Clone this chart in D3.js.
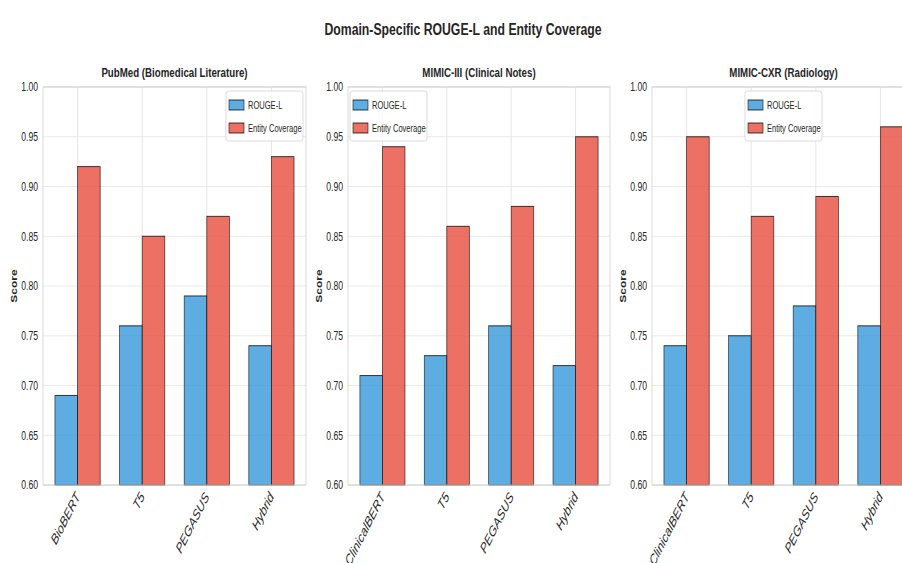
<!DOCTYPE html>
<html>
<head>
<meta charset="utf-8">
<script src="https://cdn.jsdelivr.net/npm/d3@7"></script>
<style>
  body { margin: 0; background: #fff; }
  svg { display: block; }
  text { font-family: "Liberation Sans", Arial, sans-serif; fill: #262626; }
</style>
</head>
<body>
<svg id="chart" width="902" height="563"></svg>
<script>
// ---- data ----
const datasetTitles = ["PubMed (Biomedical Literature)", "MIMIC-III (Clinical Notes)", "MIMIC-CXR (Radiology)"];
const pubmedModels = ["BioBERT", "T5", "PEGASUS", "Hybrid"];
const mimic3Models = ["ClinicalBERT", "T5", "PEGASUS", "Hybrid"];
const mimicCxrModels = ["ClinicalBERT", "T5", "PEGASUS", "Hybrid"];
const pubmedRouge = [0.69, 0.76, 0.79, 0.74];
const pubmedEntity = [0.92, 0.85, 0.87, 0.93];
const mimic3Rouge = [0.71, 0.73, 0.76, 0.72];
const mimic3Entity = [0.94, 0.86, 0.88, 0.95];
const mimicCxrRouge = [0.74, 0.75, 0.78, 0.76];
const mimicCxrEntity = [0.95, 0.87, 0.89, 0.96];
const seriesNames = ["ROUGE-L", "Entity Coverage"];
const yTicks = [0.60, 0.65, 0.70, 0.75, 0.80, 0.85, 0.90, 0.95, 1.00];

// ---- layout & style ----
const SX = 0.72;                 // horizontal condensing of the whole figure
const ix = v => v / SX;          // figure x -> inner x
const colors = ["#3498db", "#e74c3c"];
const barAlpha = 0.8;
const barWidth = 0.35;
const plotTop = 87, plotBottom = 485;
const panels = [
  { title: datasetTitles[0], models: pubmedModels, values: [pubmedRouge, pubmedEntity], left: 43, right: 306, legend: "right" },
  { title: datasetTitles[1], models: mimic3Models, values: [mimic3Rouge, mimic3Entity], left: 348, right: 610, legend: "left" },
  { title: datasetTitles[2], models: mimicCxrModels, values: [mimicCxrRouge, mimicCxrEntity], left: 652, right: 915, legend: "center" }
];

const svg = d3.select("#chart");
const root = svg.append("g").attr("transform", `scale(${SX},1)`);

root.append("text")
  .attr("x", ix(463)).attr("y", 35)
  .attr("text-anchor", "middle")
  .attr("font-size", 17).attr("font-weight", "bold")
  .text("Domain-Specific ROUGE-L and Entity Coverage");

panels.forEach(p => {
  const n = p.models.length;
  const lo = -barWidth, hi = n - 1 + barWidth, pad = 0.05 * (hi - lo);
  const x = d3.scaleLinear().domain([lo - pad, hi + pad]).range([ix(p.left), ix(p.right)]);
  const y = d3.scaleLinear().domain([0.6, 1.0]).range([plotBottom, plotTop]);
  const g = root.append("g");

  // grid
  g.append("g").selectAll("line").data(yTicks).join("line")
    .attr("x1", x.range()[0]).attr("x2", x.range()[1])
    .attr("y1", d => y(d)).attr("y2", d => y(d))
    .attr("stroke", "#e6e6e6").attr("stroke-width", 1);
  g.append("g").selectAll("line").data(d3.range(n)).join("line")
    .attr("x1", d => x(d)).attr("x2", d => x(d))
    .attr("y1", plotTop).attr("y2", plotBottom)
    .attr("stroke", "#e6e6e6").attr("stroke-width", 1 / SX);

  // bars
  p.values.forEach((vals, s) => {
    const off = s === 0 ? -barWidth : 0;
    g.append("g").selectAll("rect").data(vals).join("rect")
      .attr("x", (d, i) => x(i + off))
      .attr("width", x(barWidth) - x(0))
      .attr("y", d => y(d))
      .attr("height", d => y(0.6) - y(d))
      .attr("fill", colors[s]).attr("fill-opacity", barAlpha)
      .attr("stroke", "#000").attr("stroke-opacity", 0.75).attr("stroke-width", 1);
  });

  // frame
  g.append("rect")
    .attr("x", x.range()[0]).attr("y", plotTop)
    .attr("width", x.range()[1] - x.range()[0]).attr("height", plotBottom - plotTop)
    .attr("fill", "none").attr("stroke", "#cccccc").attr("stroke-width", 1);

  // y axis
  const yAxis = d3.axisLeft(y).tickValues(yTicks).tickFormat(d3.format(".2f")).tickSize(0).tickPadding(ix(5));
  const ya = g.append("g").attr("transform", `translate(${x.range()[0]},0)`).call(yAxis);
  ya.select(".domain").remove();
  ya.selectAll("text").attr("font-size", 12).attr("fill", "#262626")
    .attr("font-family", '"Liberation Sans", Arial, sans-serif');

  // x axis labels
  g.append("g").selectAll("text").data(p.models).join("text")
    .attr("transform", (d, i) => `translate(${x(i)},${plotBottom + 9}) rotate(-55)`)
    .attr("text-anchor", "end").attr("dy", "0.35em")
    .attr("font-size", 14.5).attr("font-style", "italic")
    .text(d => d);

  // titles
  g.append("text")
    .attr("x", (x.range()[0] + x.range()[1]) / 2).attr("y", 77)
    .attr("text-anchor", "middle").attr("font-size", 13.5).attr("font-weight", "bold")
    .text(p.title);
  g.append("text")
    .attr("transform", `translate(${x.range()[0] - ix(26)},${(plotTop + plotBottom) / 2}) rotate(-90)`)
    .attr("text-anchor", "middle").attr("font-size", 12).attr("font-weight", "bold")
    .text("Score");

  // legend
  const lw = ix(77), lh = 50;
  let lx;
  if (p.legend === "right") lx = x.range()[1] - ix(3) - lw;
  else if (p.legend === "left") lx = x.range()[0] + ix(2);
  else lx = (x.range()[0] + x.range()[1]) / 2 - lw / 2;
  const ly = plotTop + 4;
  const lg = g.append("g").attr("transform", `translate(${lx},${ly})`);
  lg.append("rect").attr("width", lw).attr("height", lh).attr("rx", 3)
    .attr("fill", "#fff").attr("fill-opacity", 0.8)
    .attr("stroke", "#d5d5d5").attr("stroke-width", 1);
  seriesNames.forEach((name, s) => {
    const cy = 14 + s * 23;
    lg.append("rect").attr("x", ix(3)).attr("y", cy - 5).attr("width", ix(15)).attr("height", 10)
      .attr("fill", colors[s]).attr("fill-opacity", barAlpha)
      .attr("stroke", "#000").attr("stroke-opacity", 0.75).attr("stroke-width", 1);
    lg.append("text").attr("x", ix(22)).attr("y", cy).attr("dy", "0.35em")
      .attr("font-size", 10.5).text(name);
  });
});
</script>
</body>
</html>
